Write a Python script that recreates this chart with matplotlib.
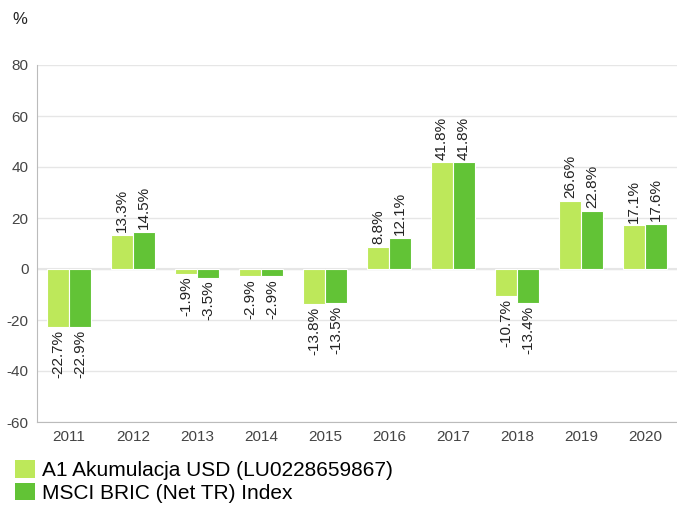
import numpy as np
import matplotlib.pyplot as plt
from matplotlib.patches import Patch

years = ['2011', '2012', '2013', '2014', '2015', '2016', '2017', '2018', '2019', '2020']
fund = [-22.7, 13.3, -1.9, -2.9, -13.8, 8.8, 41.8, -10.7, 26.6, 17.1]
index = [-22.9, 14.5, -3.5, -2.9, -13.5, 12.1, 41.8, -13.4, 22.8, 17.6]
series_names = ['A1 Akumulacja USD (LU0228659867)', 'MSCI BRIC (Net TR) Index']
colors = ['#bde85a', '#62c336']

plt.rcParams['font.family'] = ['Liberation Sans', 'DejaVu Sans']
plt.rcParams['axes.unicode_minus'] = False

fig = plt.figure(figsize=(6.77, 5.08), dpi=100)
ax = fig.add_axes([37 / 677, 1 - 422 / 508, 640 / 677, 357 / 508])

x = np.arange(len(years))
w = 0.34
for vals, off, c in [(fund, -w / 2, colors[0]), (index, w / 2, colors[1])]:
    bars = ax.bar(x + off, vals, width=w, color=c, edgecolor='white', linewidth=0.8, zorder=3)
    for b, v in zip(bars, vals):
        if v >= 0:
            ax.annotate(f'{v}%', (b.get_x() + b.get_width() / 2, v), xytext=(0, 2),
                        textcoords='offset points', rotation=90, ha='center', va='bottom',
                        fontsize=11, color='#222222')
        else:
            ax.annotate(f'{v}%', (b.get_x() + b.get_width() / 2, v), xytext=(0, -2),
                        textcoords='offset points', rotation=90, ha='center', va='top',
                        fontsize=11, color='#222222')

ax.set_xlim(-0.5, len(years) - 0.5)
ax.set_ylim(-60, 80)
ax.set_yticks(range(-60, 81, 20))
ax.set_xticks(x)
ax.set_xticklabels(years)
ax.tick_params(axis='both', length=0, labelsize=11, colors='#444444', pad=6)
ax.grid(axis='y', color='#e6e6e6', linewidth=1, zorder=0)
ax.axhline(0, color='#e6e6e6', linewidth=1.5, zorder=1)
for s in ['top', 'right']:
    ax.spines[s].set_visible(False)
for s in ['left', 'bottom']:
    ax.spines[s].set_color('#bbbbbb')

fig.text(12 / 677, 1 - 20 / 508, '%', fontsize=12, color='#222222', va='center', ha='left')

handles = [Patch(facecolor=c, edgecolor='none') for c in colors]
fig.legend(handles, series_names, loc='lower left', bbox_to_anchor=(7 / 677, -3 / 508),
           frameon=False, fontsize=15, handlelength=0.95, handleheight=0.95,
           handletextpad=0.35, labelspacing=0.1, borderaxespad=0)

fig.savefig('out.png', dpi=100)
